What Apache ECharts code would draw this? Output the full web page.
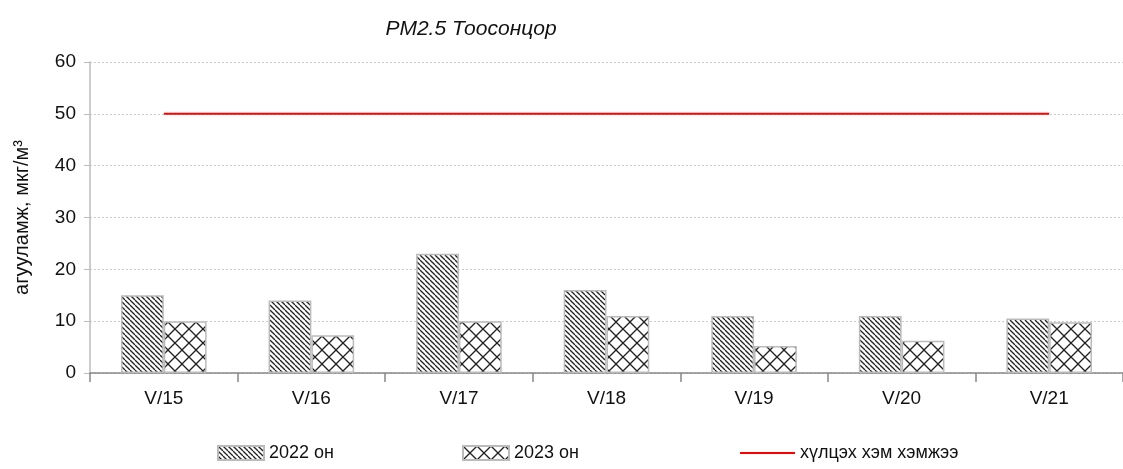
<!DOCTYPE html>
<html><head><meta charset="utf-8">
<script src="https://cdn.jsdelivr.net/npm/echarts@6/dist/echarts.min.js"></script>
<style>html,body{margin:0;padding:0;background:#fff}#c{width:1123px;height:469px}</style>
</head><body><div id="c"></div>
<script>
const categories = ['V/15','V/16','V/17','V/18','V/19','V/20','V/21'];
const values2022 = [15, 14, 23, 16, 11, 11, 10.5];
const values2023 = [10, 7.3, 10, 11, 5.2, 6.2, 9.8];
const limitValues = [50, 50, 50, 50, 50, 50, 50];
const seriesNames = ['2022 он', '2023 он', 'хүлцэх хэм хэмжээ'];
const yTicks = [0, 10, 20, 30, 40, 50, 60];

function diagPattern(){
  const n = 5, c = document.createElement('canvas');
  c.width = n; c.height = n;
  const g = c.getContext('2d');
  g.fillStyle = '#fff'; g.fillRect(0,0,n,n);
  g.strokeStyle = '#222'; g.lineWidth = 1.3;
  for (const k of [-n, 0, n]) { g.beginPath(); g.moveTo(k,0); g.lineTo(k+n,n); g.stroke(); }
  return c;
}
function crossPattern(){
  const n = 14, c = document.createElement('canvas');
  c.width = n; c.height = n;
  const g = c.getContext('2d');
  g.fillStyle = '#fff'; g.fillRect(0,0,n,n);
  g.strokeStyle = '#222'; g.lineWidth = 1.3;
  for (const k of [-n, 0, n]) {
    g.beginPath(); g.moveTo(k,0); g.lineTo(k+n,n); g.stroke();
    g.beginPath(); g.moveTo(k+n,0); g.lineTo(k,n); g.stroke();
  }
  return c;
}
const font = '"Liberation Sans Narrow", "Liberation Sans", Arial, sans-serif';
const chart = echarts.init(document.getElementById('c'));
const legendBase = { bottom: 2, itemWidth: 46, itemHeight: 14, itemGap: 4,
  textStyle: { fontFamily: font, fontSize: 18, color: '#111' } };
chart.setOption({
  animation: false,
  title: { text: 'PM2.5 Тоосонцор', left: 466, top: 14, textAlign: 'center',
    textStyle: { fontFamily: font, fontStyle: 'italic', fontWeight: 'normal', fontSize: 21, color: '#111' } },
  legend: [
    Object.assign({}, legendBase, { left: 212, data: [{ name: seriesNames[0], icon: 'rect' }] }),
    Object.assign({}, legendBase, { left: 457, data: [{ name: seriesNames[1], icon: 'rect' }] }),
    Object.assign({}, legendBase, { left: 735, bottom: 2, itemWidth: 55, itemHeight: 2, itemGap: 6,
      data: [{ name: seriesNames[2], icon: 'rect' }] })
  ],
  grid: { left: 90, right: -6, top: 62, bottom: 96 },
  xAxis: {
    type: 'category', data: categories, boundaryGap: true,
    axisLine: { lineStyle: { color: '#888', width: 1.5 } },
    axisTick: { show: true, length: 9, inside: false, lineStyle: { color: '#888', width: 1.5 } },
    axisLabel: { fontFamily: font, fontSize: 19, color: '#111', margin: 16 }
  },
  yAxis: {
    type: 'value', min: 0, max: 60, interval: 10,
    name: 'агууламж, мкг/м³', nameLocation: 'middle', nameGap: 58, nameRotate: 90,
    nameTextStyle: { fontFamily: font, fontSize: 20, color: '#111' },
    axisLine: { show: true, lineStyle: { color: '#bbb', width: 1.5 } },
    axisTick: { show: true, length: 6, lineStyle: { color: '#bbb' } },
    axisLabel: { fontFamily: font, fontSize: 19, color: '#111', margin: 14,
      formatter: v => yTicks.includes(v) ? String(v) : '' },
    splitLine: { show: true, lineStyle: { color: '#ccc', type: [2, 2], width: 1 } }
  },
  series: [
    { name: seriesNames[0], type: 'bar', data: values2022, barGap: '0%', barCategoryGap: '42%',
      itemStyle: { color: { image: diagPattern(), repetition: 'repeat' }, borderColor: '#bbb', borderWidth: 1.5 } },
    { name: seriesNames[1], type: 'bar', data: values2023,
      itemStyle: { color: { image: crossPattern(), repetition: 'repeat' }, borderColor: '#bbb', borderWidth: 1.5 } },
    { name: seriesNames[2], type: 'line', data: limitValues, symbol: 'none',
      lineStyle: { color: '#ff0000', width: 2 }, itemStyle: { color: '#ff0000' } }
  ]
});
</script></body></html>
